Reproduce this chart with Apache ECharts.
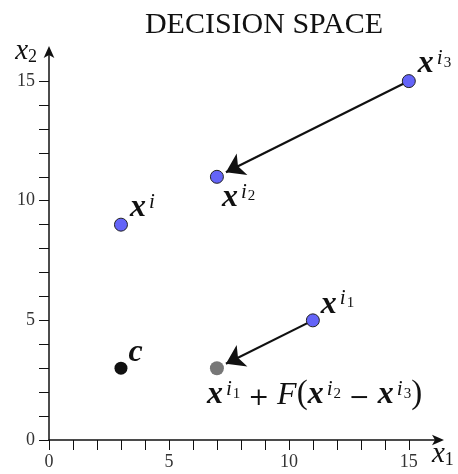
<!DOCTYPE html>
<html><head><meta charset="utf-8">
<script src="https://cdn.jsdelivr.net/npm/echarts@6/dist/echarts.min.js"></script>
<style>html,body{margin:0;padding:0;background:#fff}#c{width:458px;height:474px}</style>
</head><body><div id="c"></div>
<script>
// ---- data ----
const titleText = 'DECISION SPACE';
const xTicks = [0,1,2,3,4,5,6,7,8,9,10,11,12,13,14,15];
const yTicks = [0,1,2,3,4,5,6,7,8,9,10,11,12,13,14,15];
const xLabels = [0,5,10,15];
const yLabels = [0,5,10,15];
const bluePoints = [[3,9],[7,11],[15,15],[11,5]];
const bluePointNames = ['xi','xi2','xi3','xi1'];
const centerPoint = [[3,3]];
const trialPoint = [[7,3]];
// arrows: [from, to]
const arrows = [[[15,15],[7,11]], [[11,5],[7,3]]];

const SERIF = '"Liberation Serif", "DejaVu Serif", serif';
const DSERIF = '"DejaVu Serif", serif';
const rich = {
  x: {fontFamily: SERIF, fontStyle: 'italic', fontWeight: 'bold', fontSize: 32, color: '#111', lineHeight: 32, verticalAlign: 'bottom'},
  n: {fontFamily: SERIF, fontStyle: 'italic', fontSize: 32, color: '#111', lineHeight: 32, verticalAlign: 'bottom'},
  op: {fontFamily: SERIF, fontSize: 33, color: '#111', lineHeight: 32, verticalAlign: 'bottom'},
  pm: {fontFamily: DSERIF, fontSize: 25, color: '#111', lineHeight: 30, verticalAlign: 'bottom'},
  sup: {fontFamily: SERIF, fontStyle: 'italic', fontSize: 21, color: '#111', lineHeight: 21, verticalAlign: 'top', padding: [0,0,0,3]},
  sub: {fontFamily: SERIF, fontSize: 15, color: '#111', lineHeight: 15, verticalAlign: 'top', padding: [7,0,0,1]}
};
const labelTexts = {
  xi: '{x|x}{sup|i}',
  xi2: '{x|x}{sup|i}{sub|2}',
  xi3: '{x|x}{sup|i}{sub|3}',
  xi1: '{x|x}{sup|i}{sub|1}',
  c: '{x|c}',
  trial: '{x|x}{sup|i}{sub|1}{pm| + }{n|F}{op|(}{x|x}{sup|i}{sub|2}{pm| − }{x|x}{sup|i}{sub|3}{op|)}'
};
const labelPos = {
  xi: [16,-26], xi2: [12,12], xi3: [16,-26], xi1: [15,-25], c: [14,-25], trial: [-3,18]
};

const R = 0.42; // shorten arrow end by marker radius (axis units along direction)
function shorten(a, b, d) {
  const dx = b[0]-a[0], dy = b[1]-a[1];
  const L = Math.hypot(dx, dy);
  return [b[0]-dx/L*d, b[1]-dy/L*d];
}
const lineData = arrows.map(([a,b]) => ({coords: [a, shorten(a,b,R)]}));

const chart = echarts.init(document.getElementById('c'), null, {renderer: 'canvas'});
const axisCommon = {
  type: 'value', min: 0, max: 16.3,
  axisLine: {show: true, lineStyle: {color: '#111', width: 1.5}, symbol: ['none','arrow'], symbolSize: [8,12], symbolOffset: [0,4]},
  splitLine: {show: false},
  axisTick: {show: true, length: 10, inside: false, lineStyle: {color: '#111', width: 1}},
  axisLabel: {color: '#333', fontFamily: SERIF, fontSize: 18}
};
const nameRich = {
  n: {fontFamily: SERIF, fontStyle: 'italic', fontSize: 29, color: '#111', lineHeight: 26, verticalAlign: 'bottom'},
  s: {fontFamily: SERIF, fontSize: 18, color: '#111', lineHeight: 18, verticalAlign: 'bottom'}
};
chart.setOption({
  animation: false,
  title: {text: titleText, left: 259, textAlign: 'center', top: 5,
    textStyle: {fontFamily: SERIF, fontWeight: 'normal', fontSize: 30, color: '#111'}},
  grid: {left: 49, top: 50, width: 391, height: 390, containLabel: false},
  xAxis: Object.assign({}, axisCommon, {
    axisTick: Object.assign({}, axisCommon.axisTick, {customValues: xTicks}),
    axisLabel: Object.assign({}, axisCommon.axisLabel, {customValues: xLabels, margin: 13}),
    name: '{n|x}{s|1}', nameLocation: 'end', nameGap: -8,
    nameTextStyle: {verticalAlign: 'top', padding: [3,0,0,0], rich: nameRich}
  }),
  yAxis: Object.assign({}, axisCommon, {
    axisTick: Object.assign({}, axisCommon.axisTick, {customValues: yTicks}),
    axisLabel: Object.assign({}, axisCommon.axisLabel, {customValues: yLabels, margin: 14}),
    name: '{n|x}{s|2}', nameLocation: 'end', nameGap: -16,
    nameTextStyle: {align: 'right', padding: [0,12,0,0], rich: nameRich}
  }),
  series: [
    {type: 'lines', coordinateSystem: 'cartesian2d', z: 2, silent: true,
     symbol: ['none','arrow'], symbolSize: [12,18],
     lineStyle: {color: '#111', width: 2.2, opacity: 1, curveness: 0},
     data: lineData},
    {type: 'scatter', z: 5, symbol: 'circle', symbolSize: 13,
     itemStyle: {color: '#6464f8', borderColor: '#222', borderWidth: 1, opacity: 1},
     data: bluePoints.map((p,i) => ({value: p, label: {show: true, position: labelPos[bluePointNames[i]], formatter: labelTexts[bluePointNames[i]], rich: rich}}))},
    {type: 'scatter', z: 5, symbol: 'circle', symbolSize: 13,
     itemStyle: {color: '#111', opacity: 1},
     data: centerPoint.map(p => ({value: p, label: {show: true, position: labelPos.c, formatter: labelTexts.c, rich: rich}}))},
    {type: 'scatter', z: 5, symbol: 'circle', symbolSize: 14,
     itemStyle: {color: '#777', opacity: 1},
     data: trialPoint.map(p => ({value: p, label: {show: true, position: labelPos.trial, formatter: labelTexts.trial, rich: rich}}))}
  ]
});
</script></body></html>
